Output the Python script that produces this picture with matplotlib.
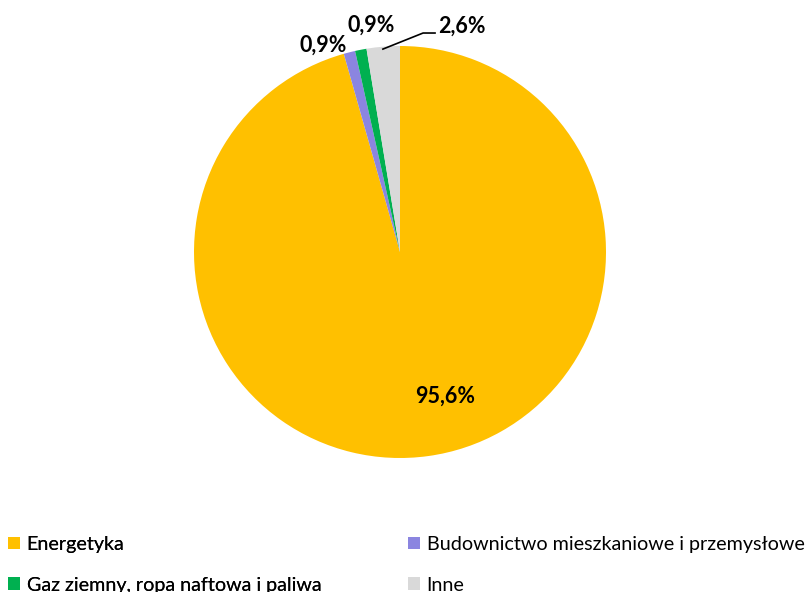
import matplotlib.pyplot as plt
from matplotlib.patches import Patch

# data
categories = ["Energetyka", "Budownictwo mieszkaniowe i przemysłowe",
              "Gaz ziemny, ropa naftowa i paliwa", "Inne"]
shares = [95.6, 0.9, 0.9, 2.6]
colors = ["#FFC000", "#8B85E0", "#00B050", "#D9D9D9"]

plt.rcParams['font.family'] = ['Lato', 'DejaVu Sans']

W, H = 810, 592
fig = plt.figure(figsize=(W / 100, H / 100), dpi=100)

# pie centre (400, 252) px, radius 206 px
cx, cy, r = 400, 252, 206
ax = fig.add_axes([(cx - r) / W, 1 - (cy + r) / H, 2 * r / W, 2 * r / H])
ax.pie(shares, colors=colors, startangle=90, counterclock=False,
       radius=1, wedgeprops=dict(linewidth=0))
ax.set_xlim(-1, 1)
ax.set_ylim(-1, 1)
ax.set_aspect('equal')
ax.axis('off')


def fmt(v):
    return f"{v:.1f}%".replace(".", ",")


# data labels (positions in pie units)
label_pos = [(0.220, -0.699), (-0.374, 1.002), (-0.138, 1.102), (0.298, 1.097)]
for v, (x, y) in zip(shares, label_pos):
    ax.text(x, y, fmt(v), ha='center', va='center', fontsize=15.5,
            fontweight='bold', color='black', clip_on=False)

# leader line for "Inne"
ax.plot([-0.083, 0.112, 0.170], [0.985, 1.063, 1.063], color='black',
        lw=1.2, clip_on=False)

# legend, two columns
handles = [Patch(facecolor=c, edgecolor='none') for c in colors]
kw = dict(loc='upper left', frameon=False, fontsize=14.2, handlelength=0.6,
          handleheight=0.6, handletextpad=0.35, labelspacing=1.2,
          borderaxespad=0, borderpad=0)
leg1 = fig.legend([handles[0], handles[2]], [categories[0], categories[2]],
                  bbox_to_anchor=(8 / W, 1 - 536 / H), **kw)
fig.add_artist(leg1)
fig.legend([handles[1], handles[3]], [categories[1], categories[3]],
           bbox_to_anchor=(408 / W, 1 - 536 / H), **kw)

fig.savefig("out.png", dpi=100)
